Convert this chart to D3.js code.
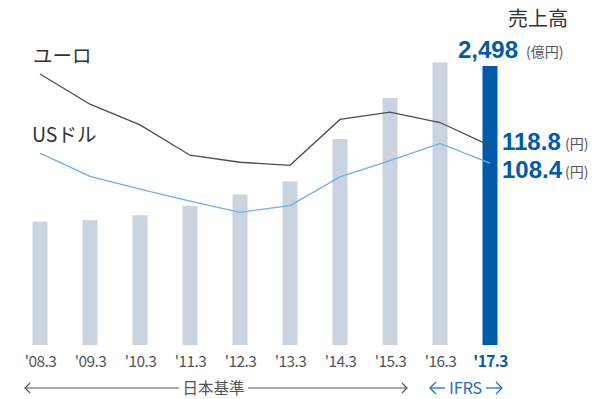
<!DOCTYPE html>
<html>
<head>
<meta charset="utf-8">
<script src="https://cdn.jsdelivr.net/npm/d3@7"></script>
<style>
  html, body { margin: 0; padding: 0; background: #fff; }
  svg { display: block; }
  text { font-family: "Noto Sans CJK JP", "Noto Sans", sans-serif; }
  text.num { font-family: "Liberation Sans", Arial, sans-serif; }
</style>
</head>
<body>
<svg id="chart" width="592" height="399"></svg>
<script>
// Fiscal year-end labels
const years = ["'08.3", "'09.3", "'10.3", "'11.3", "'12.3", "'13.3", "'14.3", "'15.3", "'16.3", "'17.3"];
// Net sales (100 million yen)
const sales = [1104, 1118, 1162, 1247, 1347, 1465, 1844, 2211, 2531, 2498];
// Average exchange rates (yen)
const euroRate = [161.5, 143.5, 131.2, 113.1, 108.9, 107.1, 134.4, 138.8, 132.6, 118.8];
const usdRate = [114.3, 100.5, 92.9, 85.7, 79.1, 83.1, 100.2, 109.9, 120.1, 108.4];

const svg = d3.select("#chart");
const baseY = 345;

const x = d3.scalePoint().domain(years).range([40, 490]);
const ySales = d3.scaleLinear().domain([0, 2498]).range([baseY, 66]);
const yRate = d3.scaleLinear().domain([0, 175]).range([baseY, baseY - 175 * 1.678]);

const barW = 15;
const last = years.length - 1;

// Sales bars
svg.append("g").selectAll("rect")
  .data(sales)
  .join("rect")
  .attr("x", (d, i) => x(years[i]) - barW / 2)
  .attr("y", d => ySales(d))
  .attr("width", barW)
  .attr("height", d => baseY - ySales(d))
  .attr("fill", (d, i) => i === last ? "#005bab" : "#cad4e1");

// Exchange-rate lines
const line = d3.line().x((d, i) => x(years[i])).y(d => yRate(d));
svg.append("path").datum(euroRate).attr("d", line)
  .attr("fill", "none").attr("stroke", "#4d4d4d").attr("stroke-width", 1.3);
svg.append("path").datum(usdRate).attr("d", line)
  .attr("fill", "none").attr("stroke", "#6ab2e7").attr("stroke-width", 1.3);

// Axis labels
const axis = d3.axisBottom(x).tickSize(0).tickPadding(0);
const gx = svg.append("g").attr("transform", `translate(0,${baseY})`).call(axis);
gx.select(".domain").remove();
gx.selectAll("text")
  .attr("y", 22)
  .attr("dy", 0)
  .attr("font-size", 15.5)
  .attr("letter-spacing", -0.6)
  .attr("fill", (d, i) => i === last ? "#005bab" : "#555")
  .attr("font-weight", (d, i) => i === last ? "bold" : "normal");

// Series names
svg.append("text").attr("x", 33).attr("y", 63).attr("font-size", 19.5).attr("fill", "#333").text("ユーロ");
svg.append("text").attr("x", 32).attr("y", 142).attr("font-size", 19.5).attr("fill", "#333").text("USドル");

// Sales header
svg.append("text").attr("x", 538).attr("y", 26).attr("text-anchor", "middle")
  .attr("font-size", 20).attr("fill", "#333").text("売上高");

function valueLabel(xp, yp, value, unit, unitX) {
  svg.append("text").attr("class", "num").attr("x", xp).attr("y", yp)
    .attr("font-size", 24).attr("font-weight", "bold").attr("fill", "#005bab")
    .text(value);
  svg.append("text").attr("x", unitX).attr("y", yp - 1)
    .attr("font-size", 14).attr("fill", "#555").text(unit);
}
valueLabel(458, 58, d3.format(",")(sales[last]), "(億円)", 526);
valueLabel(502, 150, euroRate[last].toFixed(1), "(円)", 565);
valueLabel(502, 178, usdRate[last].toFixed(1), "(円)", 565);

// Accounting standard ranges
const arrowY = 388;
const gray = "#555", blue = "#1f6fc0";
function arrowHead(g, xp, dir, color, s) {
  g.append("path")
    .attr("d", `M${xp + dir * s},${arrowY - s} L${xp},${arrowY} L${xp + dir * s},${arrowY + s}`)
    .attr("fill", "none").attr("stroke", color).attr("stroke-width", 1.3);
}
const ga = svg.append("g");
ga.append("line").attr("x1", 25).attr("x2", 179).attr("y1", arrowY).attr("y2", arrowY)
  .attr("stroke", gray).attr("stroke-width", 1.2);
ga.append("line").attr("x1", 248).attr("x2", 407).attr("y1", arrowY).attr("y2", arrowY)
  .attr("stroke", gray).attr("stroke-width", 1.2);
arrowHead(ga, 25, 1, gray, 5);
arrowHead(ga, 407, -1, gray, 5);
ga.append("text").attr("x", 213.5).attr("y", arrowY + 5.5).attr("text-anchor", "middle")
  .attr("font-size", 15.5).attr("fill", gray).text("日本基準");

ga.append("line").attr("x1", 430).attr("x2", 445).attr("y1", arrowY).attr("y2", arrowY)
  .attr("stroke", blue).attr("stroke-width", 1.3);
ga.append("line").attr("x1", 486).attr("x2", 502).attr("y1", arrowY).attr("y2", arrowY)
  .attr("stroke", blue).attr("stroke-width", 1.3);
arrowHead(ga, 430, 1, blue, 6);
arrowHead(ga, 502, -1, blue, 6);
ga.append("text").attr("x", 465.5).attr("y", arrowY + 6).attr("text-anchor", "middle")
  .attr("font-size", 16.5).attr("fill", blue).attr("letter-spacing", -0.3).text("IFRS");
</script>
</body>
</html>
